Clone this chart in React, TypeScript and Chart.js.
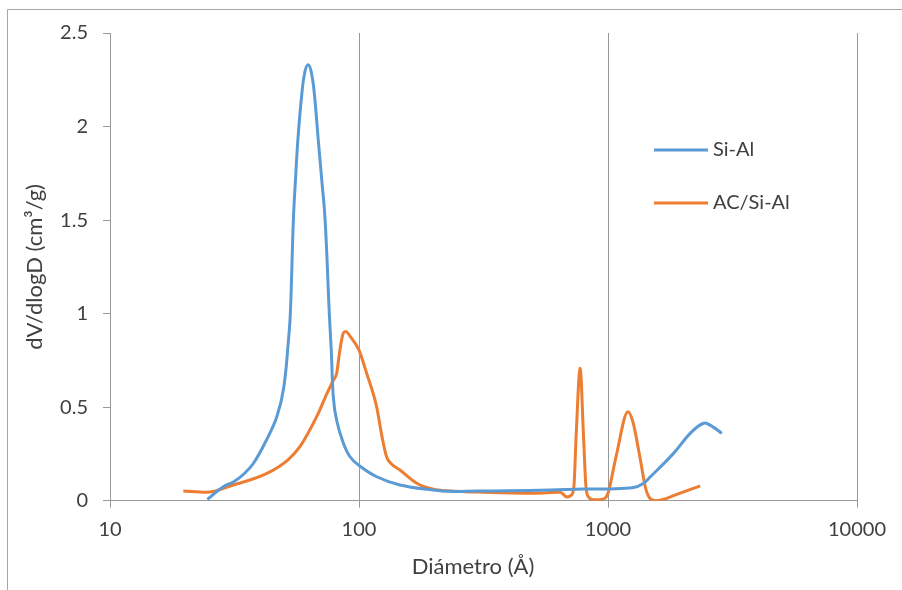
import React, { useEffect, useRef } from "react";
import { Chart, registerables } from "chart.js";

Chart.register(...registerables);

// Pore diameter (Å) and dV/dlogD (cm³/g) for each sample
const siAlDiameter = [
  24.6, 28.5, 31.3, 34.3, 37.7, 42.7, 46.8, 49.8, 52.1, 53.0, 54.5, 55.6, 56.9,
  59.1, 60.7, 62.5, 64.2, 66.0, 68.7, 70.8, 73.1, 76.0, 77.4, 78.9,
  81.3, 86.4, 92, 99.6, 117.8, 146, 199, 232, 300, 400, 586, 800, 1000, 1268,
  1380, 1480, 1833, 2138, 2422, 2600, 2866,
];
const siAlValues = [
  0.007, 0.075, 0.1, 0.14, 0.2, 0.33, 0.45, 0.6, 0.86, 1.0, 1.5, 1.72, 1.94,
  2.19, 2.296, 2.33, 2.296, 2.19, 1.92, 1.72, 1.5, 1.0, 0.8, 0.55,
  0.43, 0.31, 0.235, 0.19, 0.128, 0.084, 0.057, 0.05, 0.052, 0.053, 0.057, 0.062, 0.063, 0.07,
  0.09, 0.128, 0.253, 0.36, 0.414, 0.4, 0.36,
];

const acSiAlDiameter = [
  19.7, 24.4, 31.3, 42.7, 52, 58, 67.6, 74.4, 78.9, 81.3, 83.8, 86.4, 88.5, 92,
  100, 107.4, 117.8, 123, 129, 135, 146, 170.6, 199, 232, 316, 501, 643, 684, 712,
  730, 745, 773, 797, 815, 835, 875, 960, 1000, 1079, 1203, 1260, 1340, 1420, 1480,
  1560, 1700, 1900, 2345,
];
const acSiAlValues = [
  0.052, 0.045, 0.084, 0.146, 0.22, 0.29, 0.449, 0.574, 0.645, 0.68, 0.805, 0.895, 0.905, 0.88,
  0.805, 0.68, 0.5, 0.36, 0.235, 0.196, 0.164, 0.093, 0.061, 0.052, 0.045, 0.04, 0.045, 0.02, 0.03,
  0.08, 0.35, 0.708, 0.35, 0.08, 0.02, 0.005, 0.01, 0.04, 0.24, 0.476, 0.42, 0.24, 0.06, 0.01,
  0.0, 0.01, 0.035, 0.079,
];

const seriesNames = ["Si-Al", "AC/Si-Al"];
const seriesColors = ["#5B9BD5", "#ED7D31"];

const xTickValues = [10, 100, 1000, 10000];
const xTitle = "Diámetro (Å)";
const yTitle = "dV/dlogD (cm³/g)";

const FONT = "Lato, 'Open Sans', sans-serif";
const TEXT = "#404040";
const AXIS = "#999999";

const toPoints = (xs: number[], ys: number[]) => xs.map((x, i) => ({ x, y: ys[i] }));

// Frame, axis titles and legend drawn on top of the chart
const decorations = {
  id: "decorations",
  afterDraw(chart: any) {
    const ctx = chart.ctx as CanvasRenderingContext2D;
    const area = chart.chartArea;
    ctx.save();

    // outer frame
    ctx.strokeStyle = "#A6A6A6";
    ctx.lineWidth = 1;
    ctx.beginPath();
    ctx.moveTo(7.5, 600);
    ctx.lineTo(7.5, 9.5);
    ctx.lineTo(910, 9.5);
    ctx.stroke();

    ctx.fillStyle = TEXT;
    ctx.font = `22px ${FONT}`;
    ctx.textBaseline = "middle";

    // x title
    ctx.textAlign = "center";
    ctx.fillText(xTitle, 473, 567);

    // y title
    ctx.save();
    ctx.translate(35, (area.top + area.bottom) / 2);
    ctx.rotate(-Math.PI / 2);
    ctx.fillText(yTitle, 0, 0);
    ctx.restore();

    // legend
    ctx.font = `20px ${FONT}`;
    const legendY = [150, 203];
    chart.data.datasets.forEach((ds: any, i: number) => {
      ctx.strokeStyle = ds.borderColor;
      ctx.lineWidth = 3;
      ctx.beginPath();
      ctx.moveTo(654, legendY[i]);
      ctx.lineTo(708, legendY[i]);
      ctx.stroke();
      ctx.fillStyle = TEXT;
      ctx.textAlign = "left";
      ctx.fillText(ds.label, 713, legendY[i]);
    });

    ctx.restore();
  },
};

export default function App() {
  const canvasRef = useRef<HTMLCanvasElement | null>(null);

  useEffect(() => {
    const canvas = canvasRef.current;
    if (!canvas) return;
    const chart = new Chart(canvas, {
      type: "line",
      data: {
        datasets: [
          {
            label: seriesNames[0],
            data: toPoints(siAlDiameter, siAlValues),
            borderColor: seriesColors[0],
            backgroundColor: seriesColors[0],
            borderWidth: 3,
            pointRadius: 0,
            tension: 0.4,
          },
          {
            label: seriesNames[1],
            data: toPoints(acSiAlDiameter, acSiAlValues),
            borderColor: seriesColors[1],
            backgroundColor: seriesColors[1],
            borderWidth: 3,
            pointRadius: 0,
            cubicInterpolationMode: "monotone",
          },
        ],
      },
      options: {
        responsive: false,
        animation: false,
        layout: { padding: { top: 33, right: 45, left: 0, bottom: 0 } },
        plugins: {
          legend: { display: false },
          tooltip: { enabled: false },
          title: { display: false },
        },
        scales: {
          x: {
            type: "logarithmic",
            min: 10,
            max: 10000,
            afterBuildTicks: (axis: any) => {
              axis.ticks = xTickValues.map((v) => ({ value: v }));
            },
            afterFit: (axis: any) => {
              axis.height = 89.3;
            },
            border: { display: true, color: AXIS, width: 1 },
            grid: {
              display: true,
              drawOnChartArea: true,
              drawTicks: true,
              tickLength: 7,
              color: AXIS,
              lineWidth: 1,
            },
            ticks: {
              autoSkip: false,
              maxRotation: 0,
              padding: 10,
              color: TEXT,
              font: { family: FONT, size: 20 },
              callback: (v: any) => String(v),
            },
          },
          y: {
            min: 0,
            max: 2.5,
            afterFit: (axis: any) => {
              axis.width = 110;
            },
            border: { display: true, color: AXIS, width: 1 },
            grid: {
              display: true,
              drawOnChartArea: false,
              drawTicks: true,
              tickLength: 7,
              color: AXIS,
            },
            ticks: {
              stepSize: 0.5,
              padding: 15,
              color: TEXT,
              font: { family: FONT, size: 20 },
              callback: (v: any) => String(v),
            },
          },
        },
      },
      plugins: [decorations],
    });
    return () => chart.destroy();
  }, []);

  return (
    <div style={{ position: "fixed", left: 0, top: 0, width: 902, height: 590, background: "#fff" }}>
      <canvas ref={canvasRef} width={902} height={590} style={{ display: "block" }} />
    </div>
  );
}
